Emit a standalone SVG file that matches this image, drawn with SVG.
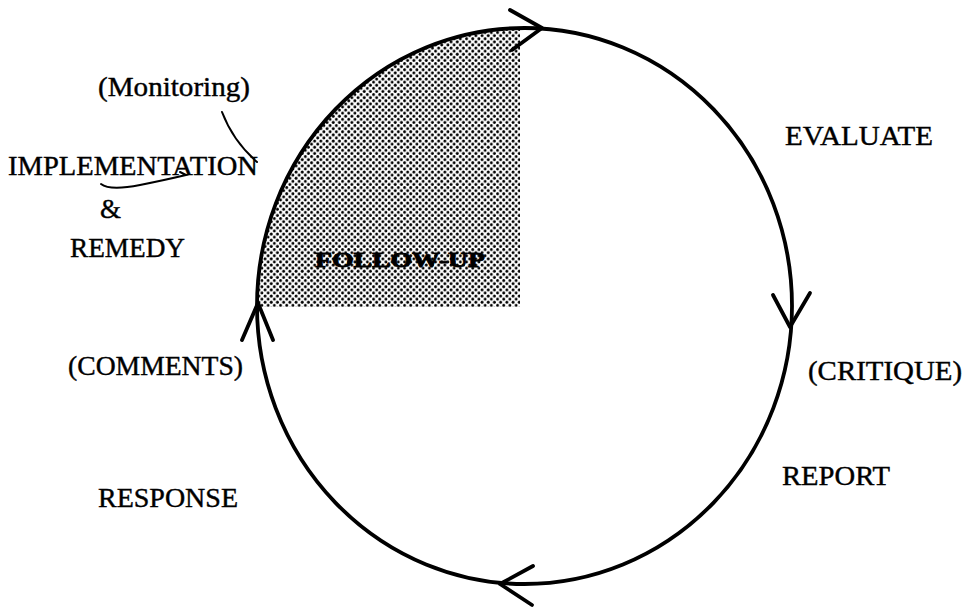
<svg xmlns="http://www.w3.org/2000/svg" width="963" height="608" viewBox="0 0 963 608">
  <defs>
    <pattern id="dots" x="0" y="0" width="6.2" height="6.2" patternUnits="userSpaceOnUse">
      <circle cx="1.55" cy="1.55" r="1.45" fill="#000"/>
      <circle cx="4.65" cy="4.65" r="1.45" fill="#000"/>
    </pattern>
    <style>
      .lbl { font-family: "Liberation Serif", "Times New Roman", serif; font-size: 27px; fill: #000; stroke: #000; stroke-width: 0.4; }
      .line { fill: none; stroke: #000; stroke-width: 3.8; stroke-linecap: round; stroke-linejoin: round; }
      .thin { fill: none; stroke: #000; stroke-width: 2; stroke-linecap: round; }
    </style>
  </defs>
  <rect width="963" height="608" fill="#fff"/>

  <g id="followup-area">
    <path d="M257 307 A267.5 278 0 0 1 520 28.04 L520 307 Z" fill="url(#dots)"/>
    <text x="315" y="267" font-family="Liberation Serif, serif" font-weight="bold" font-size="21" stroke="#000" stroke-width="0.8" textLength="170" lengthAdjust="spacingAndGlyphs">FOLLOW-UP</text>
  </g>

  <g id="connectors">
    <ellipse class="line" cx="524.5" cy="306" rx="267.5" ry="278"/>
    <path class="line" d="M510 10 L542 28 L512 50"/>
    <path class="line" d="M773 295 L790 327 L810 293"/>
    <path class="line" d="M533 566 L500 584 L532 605"/>
    <path class="line" d="M242 340 L258 303 L273 340"/>
    <path class="thin" d="M222 112 Q233 141 257 162"/>
    <path class="thin" d="M101 184 Q110 191 140 185 Q165 180 186 175 L180 172"/>
  </g>

  <g id="monitoring"><text class="lbl" x="98" y="96" textLength="152" lengthAdjust="spacingAndGlyphs">(Monitoring)</text></g>
  <g id="implementation">
    <text class="lbl" x="8" y="175" textLength="250" lengthAdjust="spacingAndGlyphs">IMPLEMENTATION</text>
    <text class="lbl" x="100" y="218">&amp;</text>
    <text class="lbl" x="70" y="257" textLength="115" lengthAdjust="spacingAndGlyphs">REMEDY</text>
  </g>
  <g id="evaluate"><text class="lbl" x="785" y="145" textLength="148" lengthAdjust="spacingAndGlyphs">EVALUATE</text></g>
  <g id="critique"><text class="lbl" x="808" y="380" textLength="154" lengthAdjust="spacingAndGlyphs">(CRITIQUE)</text></g>
  <g id="report"><text class="lbl" x="782" y="485" textLength="108" lengthAdjust="spacingAndGlyphs">REPORT</text></g>
  <g id="comments"><text class="lbl" x="68" y="375" textLength="175" lengthAdjust="spacingAndGlyphs">(COMMENTS)</text></g>
  <g id="response"><text class="lbl" x="98" y="507" textLength="140" lengthAdjust="spacingAndGlyphs">RESPONSE</text></g>
</svg>
